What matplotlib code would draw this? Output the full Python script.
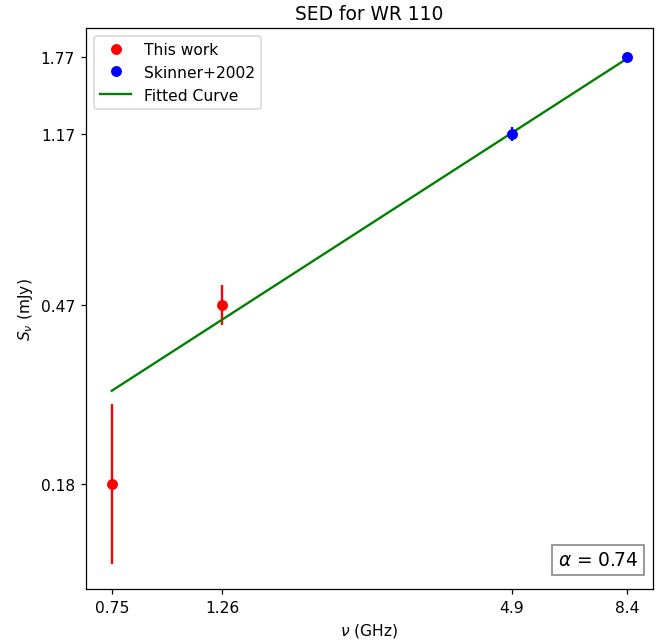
import matplotlib
matplotlib.use('Agg')
import matplotlib.pyplot as plt
from matplotlib.ticker import FixedLocator, FixedFormatter, NullLocator

# this work
freq_this = [0.75, 1.26]
flux_this = [0.18, 0.47]
err_this_lo = [0.062, 0.048]
err_this_hi = [0.096, 0.052]

# Skinner et al. 2002
freq_sk = [4.9, 8.4]
flux_sk = [1.17, 1.77]
err_sk = [0.045, 0.03]

# fitted power law (endpoints)
fit_x = [0.75, 8.4]
fit_y = [0.297, 1.752]
alpha = 0.74

xticks = [0.75, 1.26, 4.9, 8.4]
yticks = [0.18, 0.47, 1.17, 1.77]

fig = plt.figure(figsize=(5.982, 5.741), dpi=112)
ax = fig.add_axes([0.1284, 0.0824, 0.846, 0.8725])

ax.errorbar(freq_this, flux_this, yerr=[err_this_lo, err_this_hi], fmt='o', color='red')
ax.errorbar(freq_sk, flux_sk, yerr=err_sk, fmt='o', color='blue')
ax.plot([], [], 'o', color='red', label='This work')
ax.plot([], [], 'o', color='blue', label='Skinner+2002')
ax.plot(fit_x, fit_y, '-', color='green', label='Fitted Curve')

ax.set_xscale('log')
ax.set_yscale('log')
ax.xaxis.set_major_locator(FixedLocator(xticks))
ax.xaxis.set_major_formatter(FixedFormatter([str(t) for t in xticks]))
ax.xaxis.set_minor_locator(NullLocator())
ax.yaxis.set_major_locator(FixedLocator(yticks))
ax.yaxis.set_major_formatter(FixedFormatter([str(t) for t in yticks]))
ax.yaxis.set_minor_locator(NullLocator())

ax.set_xlabel(r'$\nu$ (GHz)')
ax.set_ylabel(r'$S_\nu$ (mJy)')
ax.set_title('SED for WR 110')
ax.legend(loc='upper left')

ax.text(0.975, 0.035, r'$\alpha$ = %.2f' % alpha, transform=ax.transAxes,
        ha='right', va='bottom', fontsize=12,
        bbox=dict(boxstyle='square', facecolor='white', edgecolor='gray'))

fig.savefig('out.png', dpi=112)
